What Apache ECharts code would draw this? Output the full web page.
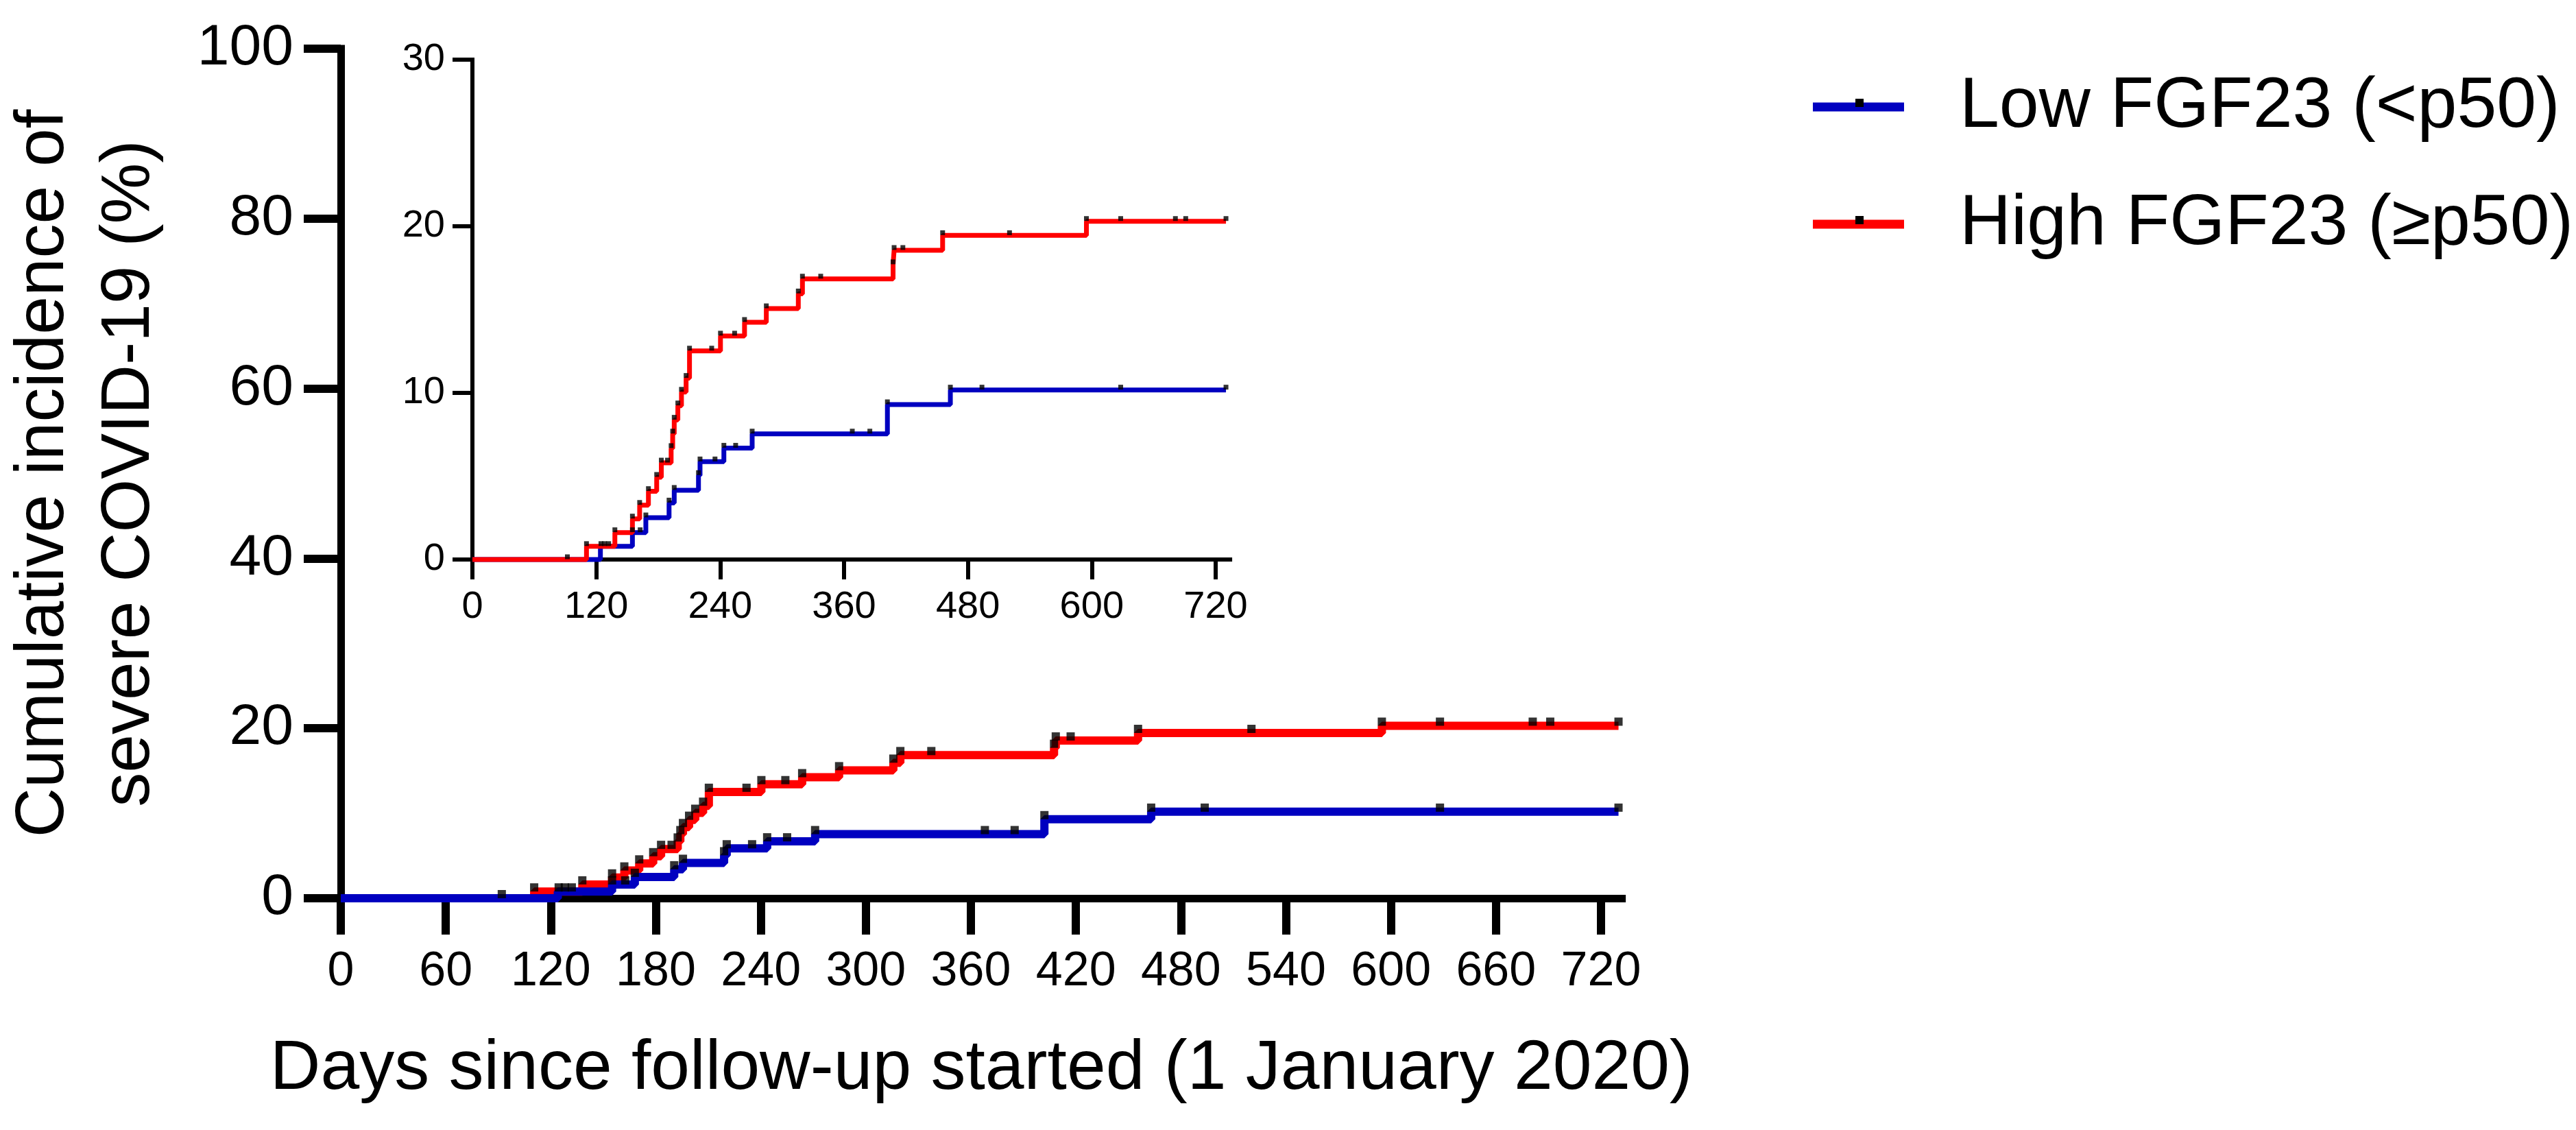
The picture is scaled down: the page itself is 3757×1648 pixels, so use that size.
<!DOCTYPE html>
<html>
<head>
<meta charset="utf-8">
<script src="https://cdn.jsdelivr.net/npm/echarts@6/dist/echarts.min.js"></script>
<style>
html,body{margin:0;padding:0;background:#fff;}
#chart{width:3757px;height:1648px;}
</style>
</head>
<body>
<div id="chart"></div>
<script>
// ---- Data ----
const seriesNames = ['Low FGF23 (<p50)', 'High FGF23 (\u2265p50)'];

const lowDays = [0, 124, 155, 168, 190.5, 195.5, 219, 220.5, 243.6, 271, 402, 463, 730];
const lowVals = [0, 0.79, 1.62, 2.51, 3.40, 4.16, 5.05, 5.87, 6.69, 7.54, 9.30, 10.18, 10.18];

const highDays = [0, 110.5, 138, 155, 162, 170.5, 178.5, 183, 192.5, 194, 195.5, 199, 202.5, 207, 210.3, 240.3, 263.6, 284.7, 315.7, 319.7, 407.5, 408.5, 455.5, 594.8, 730];
const highVals = [0, 0.79, 1.62, 2.44, 3.26, 4.09, 4.94, 5.80, 6.67, 7.54, 8.37, 9.23, 10.05, 10.88, 12.52, 13.42, 14.24, 15.06, 15.95, 16.84, 17.70, 18.56, 19.45, 20.30, 20.30];

const lowCensorDays = [124.5, 155, 162.5, 168, 190.5, 195.5, 219, 220.5, 235, 243.6, 255, 271, 368, 385, 402, 463, 493.6, 628, 730];
const highCensorDays = [92, 110.5, 128, 132, 138, 155, 162, 170.5, 178.5, 183, 189, 192.5, 194, 195.5, 199, 202.5, 207, 210.3, 231.8, 240.3, 254, 263.6, 284.7, 315.7, 319.7, 337.4, 407.5, 408.5, 417, 455.5, 520.3, 594.8, 628, 681, 691, 730];

const mainXTicks = [0, 60, 120, 180, 240, 300, 360, 420, 480, 540, 600, 660, 720];
const insetXTicks = [0, 120, 240, 360, 480, 600, 720];
const mainYTicks = [0, 20, 40, 60, 80, 100];
const insetYTicks = [0, 10, 20, 30];

const xTitle = 'Days since follow-up started (1 January 2020)';
const yTitle = 'Cumulative incidence of\nsevere COVID-19 (%)';

// ---- helpers ----
function pairs(xs, ys) { return xs.map((x, i) => [x, ys[i]]); }
function stepAt(days, vals, d) {
  let v = vals[0];
  for (let i = 0; i < days.length; i++) { if (days[i] <= d) v = vals[i]; }
  return v;
}
function censorPts(cDays, days, vals) { return cDays.map(d => [d, stepAt(days, vals, d)]); }

const FONT = '"Liberation Sans", Arial, Helvetica, sans-serif';
const BLUE = '#0000C0';
const RED = '#FF0000';

const lowLine = pairs(lowDays, lowVals);
const highLine = pairs(highDays, highVals);
const lowCens = censorPts(lowCensorDays, lowDays, lowVals);
const highCens = censorPts(highCensorDays, highDays, highVals);

// ---- layout ----
const mainPxPerDay = (2335 - 497) / 720;
const insetPxPerDay = (1773 - 689) / 720;
const mainXMax = 732;
const insetXMax = 734;

function xAxisCfg(gridIndex, max, ticks, big) {
  return {
    type: 'value', gridIndex, min: 0, max,
    axisLine: { show: true, onZero: false, lineStyle: { color: '#000', width: big ? 11 : 6, cap: 'square' } },
    axisTick: { show: true, customValues: ticks, length: big ? 53 : 29, lineStyle: { color: '#000', width: big ? 12 : 6 } },
    axisLabel: { customValues: ticks, color: '#000', fontFamily: FONT, fontSize: big ? 70 : 56, lineHeight: big ? 70 : 56, margin: big ? 73 : 42 },
    splitLine: { show: false }
  };
}
function yAxisCfg(gridIndex, max, interval, big) {
  return {
    type: 'value', gridIndex, min: 0, max, interval,
    axisLine: { show: true, onZero: false, lineStyle: { color: '#000', width: big ? 11 : 6, cap: 'square' } },
    axisTick: { show: true, length: big ? 54 : 29, lineStyle: { color: '#000', width: big ? 12 : 6 } },
    axisLabel: { color: '#000', fontFamily: FONT, fontSize: big ? 84 : 56, margin: big ? 69 : 40 },
    splitLine: { show: false }
  };
}

const xMain = xAxisCfg(0, mainXMax, mainXTicks, true);
xMain.name = xTitle;
xMain.nameLocation = 'middle';
xMain.nameGap = 197;
xMain.nameTextStyle = { color: '#000', fontFamily: FONT, fontSize: 102, lineHeight: 105 };

const yMain = yAxisCfg(0, mainYTicks[mainYTicks.length - 1], 20, true);
yMain.name = yTitle;
yMain.nameLocation = 'middle';
yMain.nameRotate = 90;
yMain.nameGap = 245;
yMain.nameTextStyle = { color: '#000', fontFamily: FONT, fontSize: 100, lineHeight: 125 };

const option = {
  animation: false,
  backgroundColor: '#ffffff',
  grid: [
    { left: 497, top: 71, width: mainXMax * mainPxPerDay, height: 1239 },
    { left: 689, top: 87, width: insetXMax * insetPxPerDay, height: 729 }
  ],
  xAxis: [xMain, xAxisCfg(1, insetXMax, insetXTicks, false)],
  yAxis: [yMain, yAxisCfg(1, insetYTicks[insetYTicks.length - 1], 10, false)],
  legend: {
    data: seriesNames,
    orient: 'vertical',
    left: 2644, top: 96, padding: 0,
    itemWidth: 133, itemHeight: 13, itemGap: 51,
    icon: 'rect',
    selectedMode: false,
    textStyle: { color: '#000', fontFamily: FONT, fontSize: 104, lineHeight: 120, padding: [0, 0, 0, 76] }
  },
  graphic: [
    { type: 'rect', shape: { x: 2706, y: 144, width: 12, height: 12 }, style: { fill: '#000' }, z: 100 },
    { type: 'rect', shape: { x: 2706, y: 315, width: 12, height: 12 }, style: { fill: '#000' }, z: 100 }
  ],
  series: [
    // main plot: red first, blue on top
    { name: seriesNames[1], type: 'line', xAxisIndex: 0, yAxisIndex: 0, step: 'end', data: highLine, showSymbol: false, symbol: 'none', clip: false, color: RED, lineStyle: { color: RED, width: 12 }, z: 3 },
    { name: seriesNames[0], type: 'line', xAxisIndex: 0, yAxisIndex: 0, step: 'end', data: lowLine, showSymbol: false, symbol: 'none', clip: false, color: BLUE, lineStyle: { color: BLUE, width: 12 }, z: 4 },
    { name: 'censor-high-main', type: 'scatter', xAxisIndex: 0, yAxisIndex: 0, data: highCens, symbol: 'rect', symbolSize: 12, symbolOffset: [0, -6], itemStyle: { color: '#000' }, clip: false, z: 6 },
    { name: 'censor-low-main', type: 'scatter', xAxisIndex: 0, yAxisIndex: 0, data: lowCens, symbol: 'rect', symbolSize: 12, symbolOffset: [0, -6], itemStyle: { color: '#000' }, clip: false, z: 6 },
    // inset: blue first, red on top
    { name: seriesNames[0], type: 'line', xAxisIndex: 1, yAxisIndex: 1, step: 'end', data: lowLine, showSymbol: false, symbol: 'none', clip: false, color: BLUE, lineStyle: { color: BLUE, width: 7 }, z: 3 },
    { name: seriesNames[1], type: 'line', xAxisIndex: 1, yAxisIndex: 1, step: 'end', data: highLine, showSymbol: false, symbol: 'none', clip: false, color: RED, lineStyle: { color: RED, width: 7 }, z: 4 },
    { name: 'censor-high-inset', type: 'scatter', xAxisIndex: 1, yAxisIndex: 1, data: highCens, symbol: 'rect', symbolSize: 7, symbolOffset: [0, -4], itemStyle: { color: '#000' }, clip: false, z: 6 },
    { name: 'censor-low-inset', type: 'scatter', xAxisIndex: 1, yAxisIndex: 1, data: lowCens, symbol: 'rect', symbolSize: 7, symbolOffset: [0, -4], itemStyle: { color: '#000' }, clip: false, z: 6 }
  ]
};

const chart = echarts.init(document.getElementById('chart'), null, { renderer: 'canvas' });
chart.setOption(option);
</script>
</body>
</html>
